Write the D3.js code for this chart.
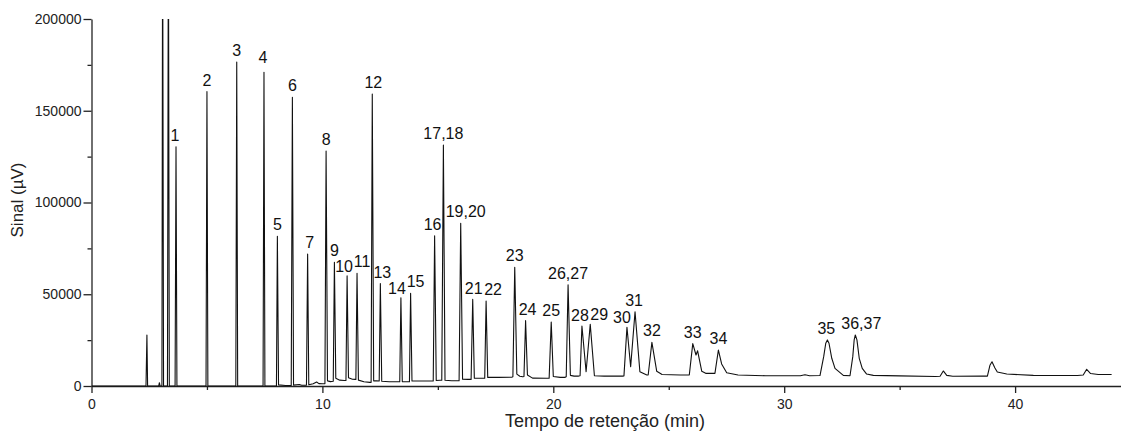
<!DOCTYPE html>
<html>
<head>
<meta charset="utf-8">
<script src="https://cdn.jsdelivr.net/npm/d3@7"></script>
<style>
  body { margin: 0; background: #fff; }
  svg { display: block; font-family: "Liberation Sans", Arial, sans-serif; }
  .axis path, .axis line { stroke: #222; stroke-width: 1.3; }
  .axis text { font-size: 14px; fill: #222; }
  .labels { font-size: 16px; fill: #111; }
</style>
</head>
<body>
<div id="container"></div>
<script>
/* CONSTANTS AND GLOBALS */
const width = 1121;
const height = 441;
const margin = { top: 19, right: -10, bottom: 55, left: 91.5 };

/* DATA */
// chromatogram trace: [time (min), signal (µV)]
const trace = [
  [0.00, 0], [2.36, 0], [2.40, 27800], [2.43, 0],
  [2.91, 0], [2.94, 1800], [2.97, 0],
  [3.05, 0], [3.08, 260000], [3.12, 0],
  [3.29, 0], [3.33, 260000], [3.37, 0],
  [3.62, 0], [3.66, 130400], [3.70, 0],
  [4.96, 0], [5.00, 160400], [5.04, 0],
  [6.25, 0], [6.29, 176600], [6.33, 0],
  [7.43, 0], [7.47, 171000], [7.51, 0],
  [8.01, 0], [8.05, 81600], [8.10, 600], [8.40, 300],
  [8.65, 300], [8.70, 157300], [8.75, 500], [9.00, 800], [9.10, 400],
  [9.31, 500], [9.36, 71900], [9.41, 700], [9.60, 1200], [9.75, 2200], [9.85, 1300], [10.00, 1200],
  [10.11, 1300], [10.16, 128100], [10.22, 2800], [10.35, 2400],
  [10.47, 2600], [10.52, 67400], [10.58, 4200], [10.75, 3200], [10.95, 3000],
  [11.02, 3000], [11.07, 60000], [11.13, 4500], [11.30, 3700], [11.42, 3600],
  [11.45, 3600], [11.50, 61400], [11.56, 3200], [11.80, 2300], [12.05, 2000],
  [12.11, 2000], [12.16, 159100], [12.22, 2800], [12.35, 2800],
  [12.46, 2700], [12.51, 55800], [12.57, 2600], [12.90, 2300], [13.30, 2300],
  [13.35, 2300], [13.40, 48100], [13.46, 2400], [13.60, 2300], [13.72, 2300],
  [13.77, 2300], [13.82, 50500], [13.88, 2700], [14.30, 2700], [14.75, 2700],
  [14.80, 2700], [14.86, 81900], [14.93, 3000], [15.10, 3100],
  [15.17, 3100], [15.24, 131300], [15.31, 3100], [15.60, 2900], [15.85, 2900],
  [15.92, 2900], [15.99, 88700], [16.07, 3700], [16.30, 3600],
  [16.44, 3600], [16.51, 47200], [16.58, 4200], [16.80, 4200], [17.00, 4200],
  [17.03, 4200], [17.09, 46300], [17.16, 4700], [17.60, 4700], [18.20, 4800],
  [18.25, 5000], [18.33, 64700], [18.42, 6500], [18.55, 5300], [18.68, 5000],
  [18.73, 5200], [18.80, 35600], [18.88, 6000], [19.10, 4300], [19.70, 4200],
  [19.82, 4300], [19.91, 34900], [20.00, 5200], [20.30, 4700], [20.50, 4700],
  [20.56, 5000], [20.64, 55200], [20.74, 5800], [20.90, 5400], [21.10, 5400],
  [21.16, 5600], [21.24, 32700], [21.42, 7800], [21.60, 33600], [21.78, 5600],
  [22.20, 5400], [23.00, 5400],
  [23.06, 5500], [23.19, 32000], [23.35, 10500], [23.54, 40500], [23.75, 7800], [24.05, 6000],
  [24.11, 6000], [24.27, 23800], [24.48, 8000], [24.71, 6300], [25.50, 6000], [25.85, 6000],
  [25.89, 6000], [26.04, 23100], [26.18, 16900], [26.25, 19200], [26.43, 8000], [26.60, 6900], [26.95, 6900],
  [27.00, 6900], [27.15, 19600], [27.29, 12000], [27.51, 7200], [28.00, 6000],
  [29.20, 5600], [30.70, 5600], [30.90, 6100], [31.10, 5600],
  [31.55, 5700], [31.71, 16000], [31.80, 23300], [31.87, 25100], [31.94, 23300], [32.06, 15100],
  [32.20, 9600], [32.56, 5800], [32.85, 5600],
  [32.97, 16000], [33.03, 25100], [33.08, 27800], [33.15, 25100], [33.25, 15100],
  [33.38, 9600], [33.57, 6500], [33.86, 5800], [35.00, 5500], [36.55, 5200],
  [36.75, 5300], [36.89, 8200], [37.04, 5800], [37.30, 5300], [38.60, 5400],
  [38.80, 5400], [38.91, 11300], [39.00, 13200], [39.12, 10000], [39.23, 7600],
  [39.64, 6500], [40.79, 5800], [42.70, 5700],
  [42.95, 6000], [43.10, 9100], [43.27, 6800], [43.60, 6300], [44.18, 6300]
];

// numbered peaks: label, apex time (min), apex signal (µV)
const peakLabels = ["1", "2", "3", "4", "5", "6", "7", "8", "9", "10", "11", "12", "13", "14", "15",
  "16", "17,18", "19,20", "21", "22", "23", "24", "25", "26,27", "28", "29", "30", "31", "32",
  "33", "34", "35", "36,37"];
const peakTimes = [3.66, 5.00, 6.29, 7.47, 8.05, 8.70, 9.36, 10.16, 10.52, 11.07, 11.50, 12.16, 12.51,
  13.40, 13.82, 14.86, 15.24, 15.99, 16.51, 17.09, 18.33, 18.80, 19.91, 20.64, 21.24, 21.60, 23.19,
  23.54, 24.27, 26.04, 27.15, 31.87, 33.08];
const peakHeights = [130400, 160400, 176600, 171000, 81600, 157300, 71900, 128100, 67400, 60000, 61400,
  159100, 55800, 48100, 50500, 81900, 131300, 88700, 47200, 46300, 64700, 35600, 34900, 55200, 32700,
  33600, 32000, 40500, 23800, 23100, 19600, 25100, 27800];

const xTicks = [0, 10, 20, 30, 40];
const xMinorTicks = [5, 15, 25, 35];
const yTicks = [0, 50000, 100000, 150000, 200000];
const yMinorTicks = [25000, 75000, 125000, 175000];

/* HTML ELEMENTS */
const svg = d3.select("#container")
  .append("svg")
  .attr("width", width)
  .attr("height", height)

/* SCALES */
const xScale = d3.scaleLinear()
  .domain([0, 45])
  .range([margin.left, margin.left + 45 * 23.09])

const yScale = d3.scaleLinear()
  .domain([0, 200000])
  .range([height - margin.bottom, margin.top])

/* AXES */
// minor ticks first, so the main axis line sits on top
svg.append("g")
  .attr("class", "axis minor")
  .attr("transform", `translate(0,${yScale(0)})`)
  .call(d3.axisBottom(xScale).tickValues(xMinorTicks).tickFormat("").tickSize(4))
  .call(g => g.select(".domain").remove())

svg.append("g")
  .attr("class", "axis minor")
  .attr("transform", `translate(${margin.left},0)`)
  .call(d3.axisLeft(yScale).tickValues(yMinorTicks).tickFormat("").tickSize(4))
  .call(g => g.select(".domain").remove())

svg.append("g")
  .attr("class", "axis")
  .attr("transform", `translate(0,${yScale(0)})`)
  .call(d3.axisBottom(xScale).tickValues(xTicks).tickFormat(d3.format("d")).tickSize(7).tickSizeOuter(0).tickPadding(6))

svg.append("g")
  .attr("class", "axis")
  .attr("transform", `translate(${margin.left},0)`)
  .call(d3.axisLeft(yScale).tickValues(yTicks).tickFormat(d3.format("d")).tickSize(8).tickSizeOuter(0).tickPadding(2))

// AXIS TITLES
svg.append("text")
  .attr("x", 605)
  .attr("y", 427)
  .attr("text-anchor", "middle")
  .style("font-size", "18px")
  .attr("fill", "#222")
  .text("Tempo de retenção (min)")

svg.append("text")
  .attr("transform", `translate(23,200) rotate(-90)`)
  .attr("text-anchor", "middle")
  .style("font-size", "17px")
  .attr("fill", "#222")
  .text("Sinal (µV)")

/* TRACE */
svg.append("clipPath")
  .attr("id", "plot-clip")
  .append("rect")
  .attr("x", margin.left)
  .attr("y", margin.top)
  .attr("width", width - margin.left)
  .attr("height", yScale(0) - margin.top + 2)

const line = d3.line()
  .x(d => xScale(d[0]))
  .y(d => yScale(d[1]))

svg.append("path")
  .datum(trace)
  .attr("clip-path", "url(#plot-clip)")
  .attr("d", line)
  .attr("fill", "none")
  .attr("stroke", "#111")
  .attr("stroke-width", 1.1)
  .attr("stroke-linejoin", "round")

/* PEAK LABELS */
// small nudges (px) where the label is not centred over its peak
const labelNudge = {
  "1": [-1, 0], "4": [-1, -3], "7": [2, 0], "10": [-3, 2], "11": [5, 0], "12": [1, 0], "13": [2, 0],
  "14": [-4, 2], "15": [5, 0], "16": [-2, 0], "19,20": [5, 0], "21": [1, 1], "22": [7, 0],
  "24": [2, 0], "28": [-2, 1], "29": [9, 2], "30": [-5, 2], "31": [-1, 0], "35": [-1, 0], "36,37": [6, 0]
};

svg.selectAll("text.labels")
  .data(peakLabels)
  .join("text")
  .attr("class", "labels")
  .attr("text-anchor", "middle")
  .attr("x", (d, i) => xScale(peakTimes[i]) + (labelNudge[d] ? labelNudge[d][0] : 0))
  .attr("y", (d, i) => yScale(peakHeights[i]) - 6 + (labelNudge[d] ? labelNudge[d][1] : 0))
  .text(d => d)
</script>
</body>
</html>
